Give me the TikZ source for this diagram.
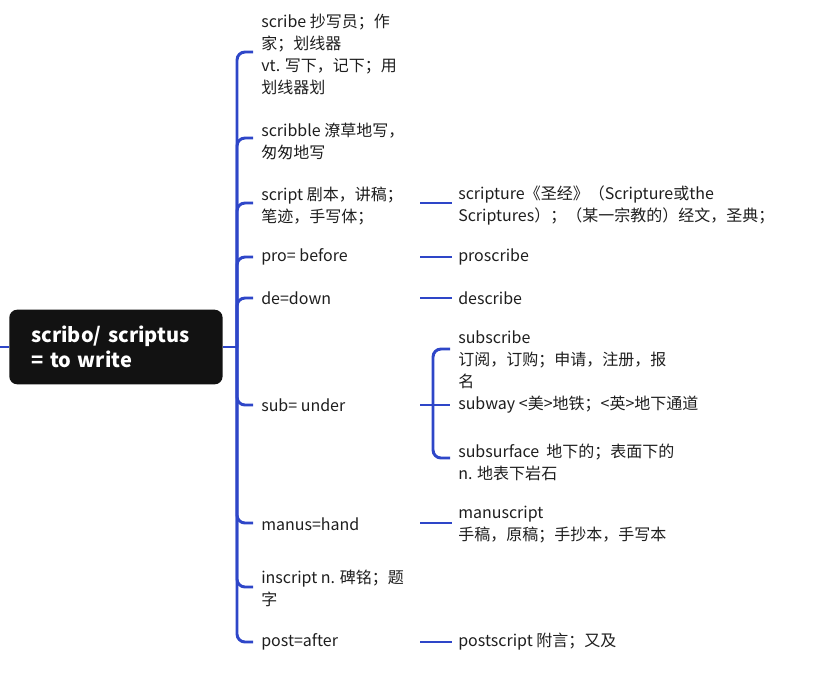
\documentclass[tikz,border=0pt]{standalone}
\usepackage{fontspec}
\setmainfont{Noto Sans CJK SC}
\usepackage{tikz}
\usetikzlibrary{calc,positioning}
\definecolor{linkblue}{HTML}{2E46C8}
\definecolor{inkgray}{HTML}{1E1E1E}

\begin{document}
\begin{tikzpicture}[x=0.75pt,y=-0.75pt,
  bus/.style={draw=linkblue,line width=2.2pt,rounded corners=6pt},
  link/.style={draw=linkblue,line width=2pt},
  word/.style={anchor=west,inner sep=0pt,align=left,text=inkgray,
    font=\fontsize{12pt}{16.5pt}\selectfont},
  rootbox/.style={anchor=west,fill=black!93,rounded corners=6pt,text=white,
    font=\bfseries\fontsize{15pt}{18.5pt}\selectfont,align=left,
    text width=127pt,inner xsep=16.5pt,minimum height=56pt}]
\useasboundingbox (0,0) rectangle (813,672);
\node[rootbox] (root) at (9,347) {scribo/ scriptus\\= to write};
\coordinate (lstub) at (0,347);
\coordinate (hub) at (237,347);
\node[word] (b1) at (261,54) {scribe 抄写员；作\\家；划线器\\vt. 写下，记下；用\\划线器划};
\node[word] (b2) at (261,141) {scribble 潦草地写，\\匆匆地写};
\node[word] (b3) at (261,206) {script 剧本，讲稿；\\笔迹，手写体；};
\node[word] (b4) at (261,257) {pro= before};
\node[word] (b5) at (261,298) {de=down};
\node[word] (b6) at (261,405) {sub= under};
\node[word] (b7) at (261,524) {manus=hand};
\node[word] (b8) at (261,588) {inscript n. 碑铭；题\\字};
\node[word] (b9) at (261,642) {post=after};
\node[word] (c3) at (458,205) {scripture《圣经》（Scripture或the\\Scriptures）；（某一宗教的）经文，圣典；};
\node[word] (c4) at (458,257) {proscribe};
\node[word] (c5) at (458,298) {describe};
\node[word] (c7) at (458,525) {manuscript\\手稿，原稿；手抄本，手写本};
\node[word] (c9) at (458,642) {postscript 附言；又及};
\node[word] (s1) at (458,360) {subscribe\\订阅，订购；申请，注册，报\\名};
\node[word] (s2) at (458,405) {subway <美>地铁；<英>地下通道};
\node[word] (s3) at (458,462) {subsurface\ \ 地下的；表面下的\\n. 地表下岩石};
\draw[link] (lstub) -- (root.west);
\draw[link] (root.east) -- (hub);
\draw[bus] (hub) |- ($(b1.west)+(-8,-2)$);
\draw[bus] (hub) |- ($(b2.west)+(-8,-3)$);
\draw[bus] (hub) |- ($(b3.west)+(-8,-3)$);
\draw[bus] (hub) |- ($(b4.west)+(-8,0)$);
\draw[bus] (hub) |- ($(b5.west)+(-8,0)$);
\draw[bus] (hub) |- ($(b6.west)+(-8,0)$);
\draw[bus] (hub) |- ($(b7.west)+(-8,-1)$);
\draw[bus] (hub) |- ($(b8.west)+(-8,-1)$);
\draw[bus] (hub) |- ($(b9.west)+(-8,0)$);
\draw[link] ($(c3.west)+(-38,-2)$) -- ($(c3.west)+(-6,-2)$);
\draw[link] ($(c4.west)+(-38,0)$) -- ($(c4.west)+(-6,0)$);
\draw[link] ($(c5.west)+(-38,0)$) -- ($(c5.west)+(-6,0)$);
\draw[link] ($(c7.west)+(-38,-2)$) -- ($(c7.west)+(-6,-2)$);
\draw[link] ($(c9.west)+(-38,0)$) -- ($(c9.west)+(-6,0)$);
\coordinate (subhub) at ($(s2.west)+(-25,0)$);
\draw[link] ($(s2.west)+(-38,0)$) -- ($(s2.west)+(-8,0)$);
\draw[bus] (subhub) |- ($(s1.west)+(-8,-11)$);
\draw[bus] (subhub) |- ($(s3.west)+(-8,-4)$);
\end{tikzpicture}
\end{document}
